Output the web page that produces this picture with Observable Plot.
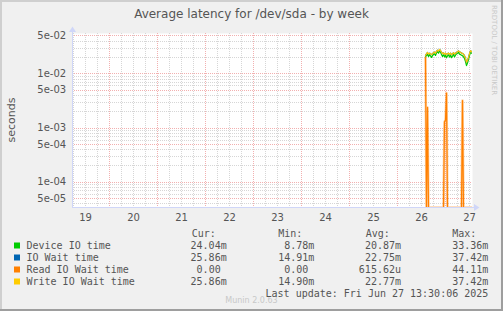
<!DOCTYPE html>
<html><head><meta charset="utf-8">
<script src="https://cdn.jsdelivr.net/npm/d3@7"></script>
<script src="https://cdn.jsdelivr.net/npm/@observablehq/plot@0.6"></script>
<style>html,body{margin:0;padding:0;background:#f0f0f0;overflow:hidden;}</style>
</head><body><div id="chart"></div>
<script>
// ---- data ----
const title = "Average latency for /dev/sda - by week";
const yLabel = "seconds";
const viewStart = "2025-06-19T05:30:00Z";
const viewEnd = "2025-06-27T13:30:00Z";
const firstSample = "2025-06-26T14:00:00Z";
const sampleMinutes = 30;
const dayLabels = [19, 20, 21, 22, 23, 24, 25, 26, 27];
const yTicks = [5e-5, 1e-4, 5e-4, 1e-3, 5e-3, 1e-2, 5e-2];
// values in milliseconds, one every 30 minutes
const deviceIO = [20.5, 21.8, 22.9, 20.8, 22.6, 21.5, 20.1, 21.7, 22.8, 23.4, 21.9, 24.3, 25.6, 24.1, 26.4, 25.2, 22.8, 21.0, 22.5, 20.6, 22.3, 19.8, 21.4, 22.5, 20.4, 22.2, 19.9, 21.2, 22.9, 20.5, 22.1, 23.4, 23.8, 24.9, 23.1, 22.8, 22.0, 21.6, 20.6, 19.2, 16.8, 14.2, 15.8, 18.3, 21.8, 25.1, 24.04];
const ioWait = [22.0, 23.5, 24.8, 23.2, 24.1, 23.6, 22.7, 23.3, 24.6, 25.2, 24.0, 26.1, 27.3, 26.4, 28.2, 27.0, 25.1, 23.6, 24.4, 22.9, 24.1, 22.6, 23.5, 24.2, 23.0, 24.1, 22.5, 23.4, 24.6, 23.1, 24.0, 25.1, 25.6, 26.6, 25.4, 25.0, 24.2, 23.9, 23.1, 21.6, 19.2, 16.4, 17.9, 20.1, 23.6, 26.8, 25.86];
const readWait = [20.0, 0, 2.4, 0, 0, 0, 0, 0, 0, 0, 0, 0, 0, 0, 0, 0, 0, 0, 0, 1.3, 1.4, 4.4, 0, 0, 0, 0, 0, 0, 0, 0, 0, 0, 0, 0, 0, 0, 0, 3.2, 0, 0, 0, 0, 0, 0, 0, 0, 0];
const writeWait = [22.0, 23.5, 24.8, 23.2, 24.1, 23.6, 22.7, 23.3, 24.6, 25.2, 24.0, 26.1, 27.3, 26.4, 28.2, 27.0, 25.1, 23.6, 24.4, 22.9, 24.1, 22.6, 23.5, 24.2, 23.0, 24.1, 22.5, 23.4, 24.6, 23.1, 24.0, 25.1, 25.6, 26.6, 25.4, 25.0, 24.2, 23.9, 23.1, 21.6, 19.2, 16.4, 17.9, 20.1, 23.6, 26.8, 25.86];
const seriesNames = ["Device IO time", "IO Wait time", "Read IO Wait time", "Write IO Wait time"];
const seriesColors = ["#00cc00", "#0066b3", "#ff8000", "#ffcc00"];
const curVals = ["24.04m", "25.86m", "0.00", "25.86m"];
const minVals = ["8.78m", "14.91m", "0.00", "14.90m"];
const avgVals = ["20.87m", "22.75m", "615.62u", "22.77m"];
const maxVals = ["33.36m", "37.42m", "44.11m", "37.42m"];
const statHeaders = ["Cur:", "Min:", "Avg:", "Max:"];
const lastUpdate = "Last update: Fri Jun 27 13:30:06 2025";
const watermark = "RRDTOOL / TOBI OETIKER";
const generator = "Munin 2.0.63";

// ---- build ----
const yMin = 3.41e-5, yMax = 0.0556;
const seriesData = [deviceIO, ioWait, readWait, writeWait];
const t0 = new Date(firstSample).getTime();
const series = seriesData.map((arr, s) => arr.map((v, i) => ({t: new Date(t0 + i * sampleMinutes * 60000), v: v / 1000, s: seriesNames[s]})));

const minorY = [];
for (let e = -5; e <= -1; e++) for (let m = 1; m <= 9; m++) { const v = m * Math.pow(10, e); if (v >= yMin && v <= yMax) minorY.push(v); }
const start = new Date(viewStart), end = new Date(viewEnd);
const sixHours = d3.utcHour.every(6).range(start, end);
const midnights = d3.utcDay.range(start, end);
const noonTicks = dayLabels.map(d => new Date(Date.UTC(2025, 5, d, 12)));

const fmtExp = v => { const [m, e] = v.toExponential(0).split("e"); const n = +e; return m + "e" + (n < 0 ? "-" : "+") + String(Math.abs(n)).padStart(2, "0"); };

const gridGray = "#d6d6d6", gridRed = "#f2b0b0";
const marks = [
  Plot.frame({fill: "white", stroke: null}),
  Plot.ruleY(minorY, {stroke: gridGray, strokeDasharray: "1,1", shapeRendering: "crispEdges"}),
  Plot.ruleX(sixHours, {stroke: gridGray, strokeDasharray: "1,1", shapeRendering: "crispEdges"}),
  Plot.ruleY(yTicks, {stroke: gridRed, strokeDasharray: "1,1", shapeRendering: "crispEdges"}),
  Plot.ruleX(midnights, {stroke: gridRed, strokeDasharray: "1,1", shapeRendering: "crispEdges"}),
];
series.forEach((data, s) => {
  if (s === 2) marks.push(Plot.line(data, {x: "t", y: d => Math.max(d.v, yMin), stroke: seriesColors[s], strokeWidth: 2.6, strokeOpacity: 0.35, clip: true}));
  marks.push(Plot.line(data, {x: "t", y: d => Math.max(d.v, yMin), stroke: seriesColors[s], strokeWidth: 1.2, clip: true}));
});
marks.push(
  Plot.text(yTicks, {y: d => d, text: fmtExp, frameAnchor: "left", textAnchor: "end", dx: -6.3, fontSize: 10, fill: "#555"}),
  Plot.axisX(noonTicks, {tickSize: 0, tickPadding: 6.5, tickFormat: d => d.getUTCDate(), label: null, fontSize: 10})
);

const svg = Plot.plot({
  width: 503, height: 311,
  marginTop: 33, marginBottom: 104, marginLeft: 72, marginRight: 31,
  x: {type: "utc", domain: [start, end]},
  y: {type: "log", domain: [yMin, yMax], axis: null},
  style: {background: "#f0f0f0", color: "#555", fontFamily: "DejaVu Sans", fontSize: "10px"},
  marks
});
document.getElementById("chart").appendChild(svg);

// axes lines with arrows, placed beneath the data lines
const axisCol = "#cfd6f8";
const ax = d3.select(svg).insert("g", "g[aria-label='line']");
ax.append("line").attr("x1", 72).attr("x2", 475).attr("y1", 207.5).attr("y2", 207.5).attr("stroke", axisCol);
ax.append("path").attr("d", "M474,204 L479.5,207.5 L474,211 Z").attr("fill", axisCol);
ax.append("line").attr("x1", 72.5).attr("x2", 72.5).attr("y1", 208).attr("y2", 31).attr("stroke", axisCol);
ax.append("path").attr("d", "M69,32 L72.5,26.5 L76,32 Z").attr("fill", axisCol);

const g = d3.select(svg).append("g").attr("text-anchor", "start");
// border shading
g.append("rect").attr("x", 0).attr("y", 0).attr("width", 503).attr("height", 2).attr("fill", "#cfcfcf");
g.append("rect").attr("x", 0).attr("y", 0).attr("width", 2).attr("height", 311).attr("fill", "#cfcfcf");
g.append("rect").attr("x", 0).attr("y", 309).attr("width", 503).attr("height", 2).attr("fill", "#9e9e9e");
g.append("rect").attr("x", 501).attr("y", 0).attr("width", 2).attr("height", 311).attr("fill", "#9e9e9e");
// title
g.append("text").attr("x", 251.5).attr("y", 18).attr("text-anchor", "middle").attr("font-family", "DejaVu Sans").attr("font-size", 12).attr("fill", "#555").text(title);
// y label
g.append("text").attr("transform", "translate(15,120) rotate(-90)").attr("text-anchor", "middle").attr("font-family", "DejaVu Sans").attr("font-size", 11).attr("fill", "#555").text(yLabel);
// watermark
g.append("text").attr("transform", "translate(491.5,5) rotate(90)").attr("text-anchor", "start").attr("font-family", "DejaVu Sans").attr("font-size", 7).attr("fill", "#c8c8c8").text(watermark);
g.append("text").attr("x", 251.5).attr("y", 302.5).attr("text-anchor", "middle").attr("font-family", "DejaVu Sans").attr("font-size", 8).attr("fill", "#c8c8c8").text(generator);
// legend
const mono = "DejaVu Sans Mono";
const colRight = [226.7, 314.3, 401, 488.3];
const headLeft = [191.7, 278.3, 365.7, 452.3];
statHeaders.forEach((h, i) => g.append("text").attr("x", headLeft[i]).attr("y", 237.3).attr("text-anchor", "start").attr("font-family", mono).attr("font-size", 10).attr("fill", "#555").text(h));
const cols = [curVals, minVals, avgVals, maxVals];
seriesNames.forEach((name, r) => {
  const base = 249 + r * 12;
  g.append("rect").attr("x", 14).attr("y", base - 6.5).attr("width", 6).attr("height", 6).attr("fill", seriesColors[r]);
  g.append("text").attr("x", 26.5).attr("y", base).attr("text-anchor", "start").attr("font-family", mono).attr("font-size", 10).attr("fill", "#555").text(name);
  cols.forEach((col, c) => {
    const v = col[r];
    const hasUnit = /[a-zA-Z]$/.test(v);
    g.append("text").attr("x", colRight[c] - (hasUnit ? 0 : 6)).attr("y", base).attr("text-anchor", "end").attr("font-family", mono).attr("font-size", 10).attr("fill", "#555").text(v);
  });
});
g.append("text").attr("x", 488.3).attr("y", 296.7).attr("text-anchor", "end").attr("font-family", mono).attr("font-size", 10).attr("fill", "#555").text(lastUpdate);
</script>
</body></html>
